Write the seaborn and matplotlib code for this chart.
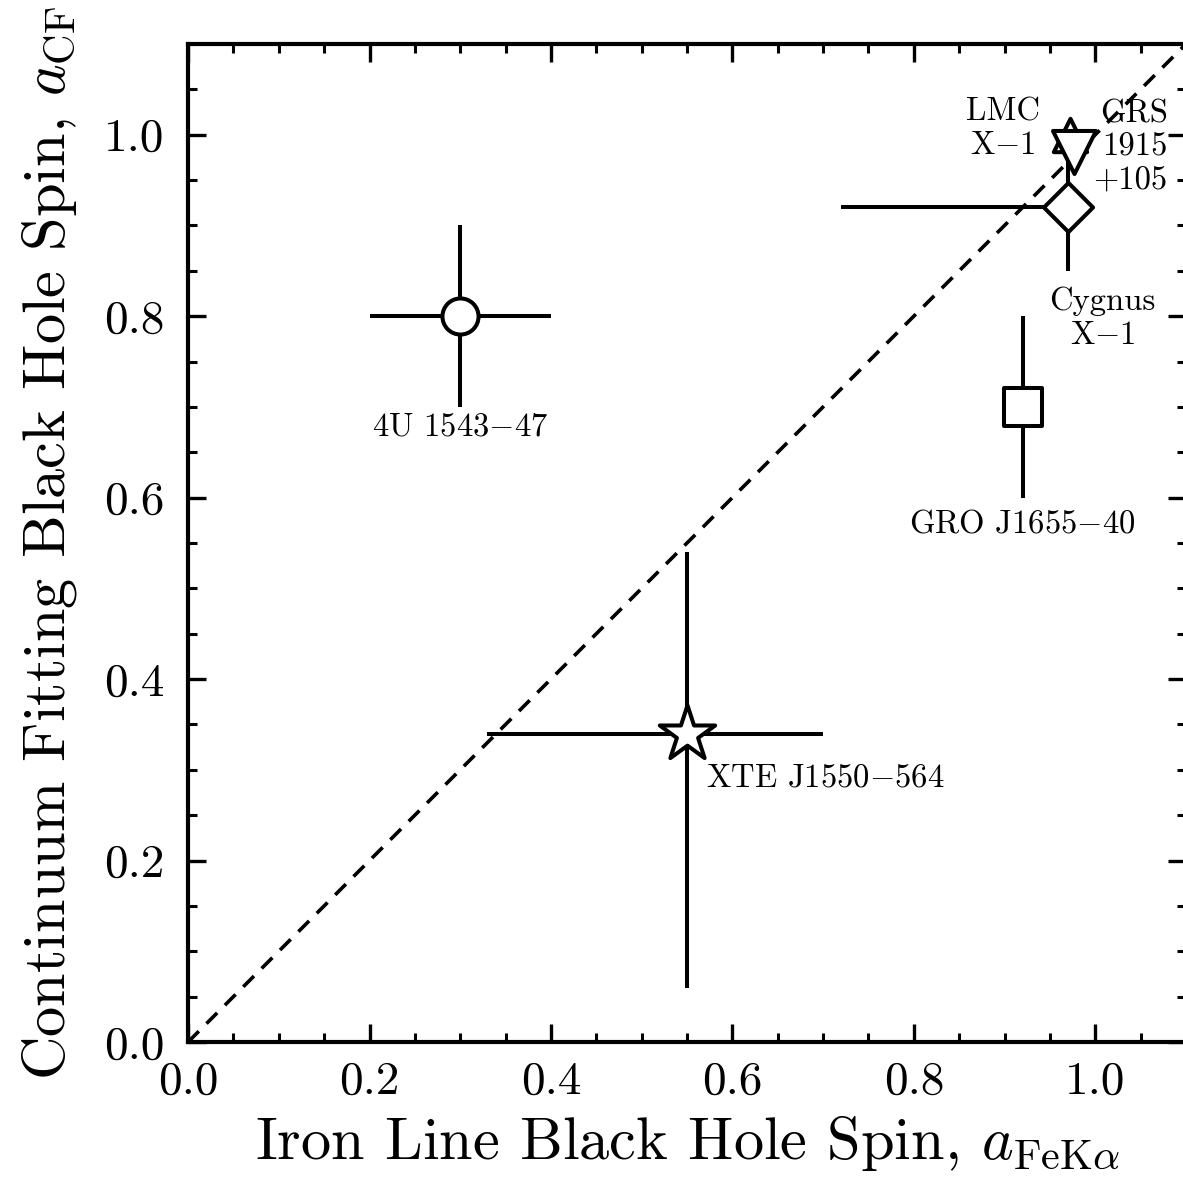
import matplotlib
matplotlib.use("Agg")
import matplotlib.pyplot as plt
from matplotlib.ticker import MultipleLocator, AutoMinorLocator
import seaborn as sns
import pandas as pd

# Black hole spin estimates: iron-line (x) vs continuum-fitting (y)
sources = ["4U 1543$-$47", "XTE J1550$-$564", "GRO J1655$-$40",
           "Cygnus\nX$-$1", "LMC\nX$-$1", "GRS\n1915\n+105"]
a_fe = [0.30, 0.55, 0.92, 0.97, 0.972, 0.977]
a_fe_lo = [0.10, 0.22, 0.0, 0.25, 0.0, 0.0]
a_fe_hi = [0.10, 0.15, 0.0, 0.0, 0.0, 0.0]
a_cf = [0.80, 0.34, 0.70, 0.92, 1.00, 0.981]
a_cf_lo = [0.10, 0.28, 0.10, 0.07, 0.0, 0.0]
a_cf_hi = [0.10, 0.20, 0.10, 0.06, 0.0, 0.0]
markers = ["o", "*", "s", "D", "^", "v"]
marker_sizes = [26, 42, 27, 25, 24, 31]

# one-to-one reference line
diag = [0.0, 1.1]

df = pd.DataFrame({"source": sources, "a_fe": a_fe, "a_cf": a_cf})

sns.set_style("ticks")
plt.rcParams.update({
    "font.family": "serif",
    "font.serif": ["cmr10"],
    "mathtext.fontset": "cm",
    "axes.formatter.use_mathtext": True,
    "text.color": "black",
    "axes.labelcolor": "black",
    "axes.linewidth": 3.0,
    "xtick.direction": "in",
    "ytick.direction": "in",
    "xtick.top": True,
    "ytick.right": True,
    "xtick.major.size": 13,
    "ytick.major.size": 13,
    "xtick.minor.size": 6.5,
    "ytick.minor.size": 6.5,
    "xtick.major.width": 2.4,
    "ytick.major.width": 2.4,
    "xtick.minor.width": 2.2,
    "ytick.minor.width": 2.2,
    "xtick.color": "black",
    "ytick.color": "black",
    "xtick.labelcolor": "black",
    "ytick.labelcolor": "black",
    "axes.edgecolor": "black",
})

fig = plt.figure(figsize=(11.83, 11.96), dpi=100)
ax = fig.add_axes([0.159, 0.1288, 0.8435, 0.8344])

sns.lineplot(x=diag, y=diag, ax=ax, color="black", linewidth=2.6,
             linestyle=(0, (4.2, 3.0)), zorder=1)

for i in range(len(df)):
    has_x = a_fe_lo[i] or a_fe_hi[i]
    has_y = a_cf_lo[i] or a_cf_hi[i]
    if has_x or has_y:
        ax.errorbar(a_fe[i], a_cf[i],
                    xerr=[[a_fe_lo[i]], [a_fe_hi[i]]] if has_x else None,
                    yerr=[[a_cf_lo[i]], [a_cf_hi[i]]] if has_y else None,
                    fmt="none", ecolor="black", elinewidth=2.9, capsize=0,
                    zorder=2)

for i in range(len(df)):
    sns.scatterplot(x=[a_fe[i]], y=[a_cf[i]], ax=ax, marker=markers[i],
                    s=marker_sizes[i] ** 2, facecolor="white",
                    edgecolor="black", linewidth=2.9, zorder=3 + i,
                    clip_on=False)

fs = 23.5
ax.text(0.30, 0.678, sources[0], ha="center", va="center", fontsize=fs)
ax.text(0.571, 0.291, sources[1], ha="left", va="center", fontsize=fs)
ax.text(0.92, 0.571, sources[2], ha="center", va="center", fontsize=fs)
ax.text(1.008, 0.798, sources[3], ha="center", va="center", fontsize=fs,
        multialignment="center")
ax.text(0.898, 1.007, sources[4], ha="center", va="center", fontsize=fs,
        multialignment="center")
ax.text(1.08, 0.986, sources[5], ha="right", va="center", fontsize=fs,
        multialignment="right")

ax.set_xlim(0, 1.1)
ax.set_ylim(0, 1.1)
ax.xaxis.set_major_locator(MultipleLocator(0.2))
ax.yaxis.set_major_locator(MultipleLocator(0.2))
ax.xaxis.set_minor_locator(AutoMinorLocator(4))
ax.yaxis.set_minor_locator(AutoMinorLocator(4))
ax.set_xticks([0.0, 0.2, 0.4, 0.6, 0.8, 1.0])
ax.set_yticks([0.0, 0.2, 0.4, 0.6, 0.8, 1.0])
ax.set_xticklabels(["0.0", "0.2", "0.4", "0.6", "0.8", "1.0"])
ax.set_yticklabels(["0.0", "0.2", "0.4", "0.6", "0.8", "1.0"])
ax.tick_params(axis="x", which="major", labelsize=34, pad=14)
ax.tick_params(axis="y", which="major", labelsize=34, pad=17)

ax.set_xlabel(r"Iron Line Black Hole Spin, $a_{\rm FeK\alpha}$", fontsize=43.5,
              labelpad=8)
ax.set_ylabel(r"Continuum Fitting Black Hole Spin, $a_{\rm CF}$", fontsize=43.5,
              labelpad=18)

fig.savefig("out.png", dpi=100)
